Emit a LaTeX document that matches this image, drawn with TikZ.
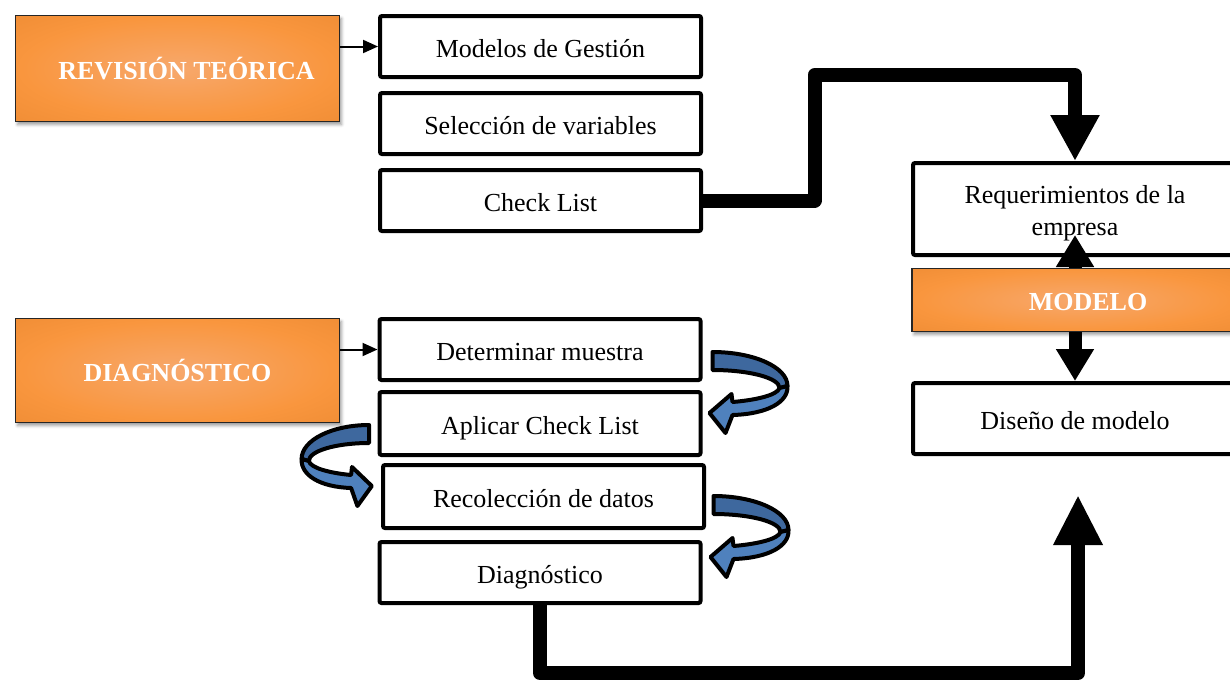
\documentclass[tikz,border=0pt]{standalone}
\usepackage{fontspec}
\setmainfont{Liberation Serif}
\usetikzlibrary{arrows.meta,shadows.blur,calc}

\definecolor{ocenter}{RGB}{247,168,108}
\definecolor{omid}{RGB}{249,150,62}
\definecolor{oedge}{RGB}{230,132,44}
\definecolor{curldark}{RGB}{62,104,158}
\definecolor{curllight}{RGB}{79,129,189}
\pgfdeclareradialshading{orangeglow}{\pgfpoint{0bp}{0bp}}{color(0bp)=(ocenter); color(24bp)=(omid); color(50bp)=(oedge)}

\tikzset{
  basefont/.style={font=\fontsize{26}{32}\selectfont},
  oneline/.style={text height=21pt, text depth=0pt},
  whitebox/.style={basefont, draw=black, line width=4pt, rounded corners=2pt, fill=white,
    minimum width=321pt, minimum height=61pt, inner sep=0pt},
  orangebox/.style={basefont, oneline, draw=black!85, line width=1.2pt, shading=orangeglow,
    text=white, font=\fontsize{26}{32}\selectfont\bfseries, minimum width=324pt, inner sep=0pt,
    blur shadow={shadow xshift=2pt, shadow yshift=-3pt, shadow blur radius=3pt, shadow opacity=40}},
  thinarrow/.style={line width=2pt, -{Triangle[length=15pt,width=13pt]}},
  bigarrow/.style={line width=14pt, line join=round, -{Triangle[length=46pt,width=46pt]}},
  midarrow/.style={line width=13pt, -{Triangle[length=32pt,width=36pt]}},
  % curled ribbon arrow: dark back band, light front band ending in a head
  curl/.pic={
    \filldraw[fill=curldark, draw=black, line width=4pt, line join=round]
      (1,2) .. controls (42,2) and (76,17) .. (76,36) -- (68,38)
      .. controls (68,28) and (38,20) .. (1,20) -- cycle;
    \filldraw[fill=curllight, draw=black, line width=4pt, line join=round]
      (76,36) .. controls (77,52) and (56,64) .. (21,65) -- (14,83) -- (-2,63) -- (20,44) -- (21,52)
      .. controls (45,50) and (66,45) .. (68,38) -- cycle;
  }
}

\begin{document}
\begin{tikzpicture}[x=1pt,y=-1pt]
\useasboundingbox (0,0) rectangle (1230,681);
\clip (0,0) rectangle (1230,681);

% stage headers
\node[orangebox, minimum height=106pt] (revision) at (177.5,68.5) {\hspace*{18pt}REVISIÓN TEÓRICA};
\node[orangebox, minimum height=104pt] (diagbox) at (177.5,370.5) {DIAGNÓSTICO};

% theoretical review steps
\node[whitebox, oneline] (modelos) at (540.5,46.5) {Modelos de Gestión};
\node[whitebox, oneline] (seleccion) at (540.5,123.5) {Selección de variables};
\node[whitebox, oneline] (checklist) at (540.5,200.5) {Check List};

% diagnosis steps
\node[whitebox, oneline] (muestra) at (540,349.5) {Determinar muestra};
\node[whitebox, oneline, minimum height=63pt] (aplicar) at (540,423.5) {Aplicar Check List};
\node[whitebox, oneline, minimum height=63pt] (recoleccion) at (543.5,496.5) {Recolección de datos};
\node[whitebox, oneline] (diagnostico) at (540,572.5) {Diagnóstico};

% model column
\node[whitebox, minimum width=324pt, minimum height=92pt, align=center] (requer) at (1075,209)
  {\rule{0pt}{26pt}Requerimientos de la\\empresa};
\node[orangebox, minimum width=326pt, minimum height=63pt] (modelo) at (1075,300) {\hspace*{26pt}MODELO};
\node[whitebox, oneline, minimum width=324pt, minimum height=71pt] (diseno) at (1075,418.5) {Diseño de modelo};

% header arrows
\draw[thinarrow] (revision.east |- modelos.west) -- (modelos.west);
\draw[thinarrow] (diagbox.east |- muestra.west) -- (muestra.west);

% heavy connectors
\coordinate (topbend) at (814.5,75);
\draw[bigarrow] (checklist.east) -- (checklist.east -| topbend) -- (topbend) -- (topbend -| requer.north) -- (requer.north);

\coordinate (botbend) at (1078,673);
\coordinate (botend) at (1078,495);
\draw[bigarrow, -{Triangle[length=50pt,width=46pt]}] (diagnostico.south) |- (botbend) -- (botend);

\draw[midarrow] (modelo.north) -- ([yshift=22pt]requer.south);
\draw[midarrow] (modelo.south) -- (diseno.north);

% curled step arrows
\pic at ($(muestra.east)+(9,0.5)$) {curl};
\pic at ($(recoleccion.east)+(6.5,-2.5)$) {curl};
\pic[xscale=-0.9] at ($(aplicar.west)+(-7.5,-0.5)$) {curl};
\end{tikzpicture}
\end{document}
